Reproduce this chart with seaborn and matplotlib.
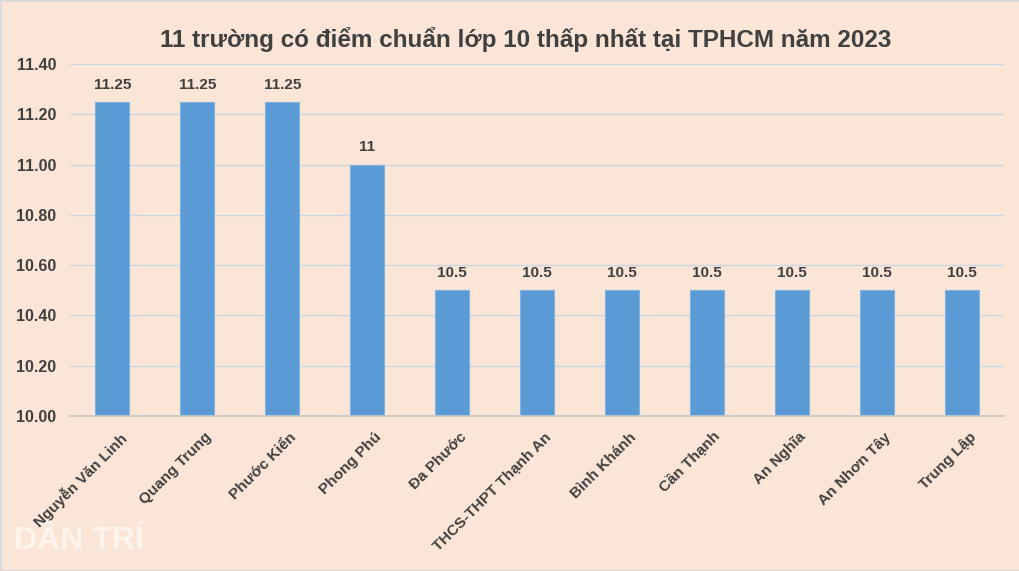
import matplotlib

matplotlib.use("Agg")
import matplotlib.pyplot as plt
import matplotlib.transforms as mtransforms
import numpy as np
import pandas as pd
import seaborn as sns

TITLE = "11 trường có điểm chuẩn lớp 10 thấp nhất tại TPHCM năm 2023"
SCHOOLS = [
    "Nguyễn Văn Linh",
    "Quang Trung",
    "Phước Kiển",
    "Phong Phú",
    "Đa Phước",
    "THCS-THPT Thạnh An",
    "Bình Khánh",
    "Cần Thạnh",
    "An Nghĩa",
    "An Nhơn Tây",
    "Trung Lập",
]
SCORES = [11.25, 11.25, 11.25, 11, 10.5, 10.5, 10.5, 10.5, 10.5, 10.5, 10.5]
SCORE_LABELS = ["11.25", "11.25", "11.25", "11", "10.5", "10.5", "10.5", "10.5", "10.5", "10.5", "10.5"]
Y_TICKS = [10.0, 10.2, 10.4, 10.6, 10.8, 11.0, 11.2, 11.4]

BG = "#FBE5D6"
BAR = "#5B9BD5"
TEXT = "#404040"

sns.set_theme(style="white")
plt.rcParams["font.family"] = ["Liberation Sans", "DejaVu Sans"]
plt.rcParams["font.weight"] = "bold"

df = pd.DataFrame({"school": SCHOOLS, "score": SCORES})

fig = plt.figure(figsize=(10.2, 5.71), dpi=100, facecolor=BG,
                 edgecolor="#D9D9D9", linewidth=2)
ax = fig.add_axes([0.0686, 0.2715, 0.916, 0.6165])
ax.set_facecolor(BG)

sns.barplot(data=df, x="school", y="score", color=BAR, width=0.4,
            saturation=1, edgecolor="#7FB2E0", linewidth=0.8, ax=ax)
ax.set_ylim(10.0, 11.4)
ax.set_xlim(-0.5, len(SCHOOLS) - 0.5)

for i, (v, lab) in enumerate(zip(SCORES, SCORE_LABELS)):
    ax.text(i, v + 0.04, lab, ha="center", va="bottom", fontsize=11,
            fontweight="bold", color=TEXT)

ax.set_yticks(Y_TICKS)
ax.set_yticklabels([f"{t:.2f}" for t in Y_TICKS], fontsize=11.5,
                   fontweight="bold", color=TEXT)
ax.yaxis.grid(True, color="#C9D6E3", linewidth=1)
ax.set_axisbelow(True)

ax.set_xticks(range(len(SCHOOLS)))
ax.set_xticklabels(SCHOOLS, rotation=45, ha="right", rotation_mode="anchor",
                   fontsize=11, fontweight="bold", color=TEXT)
ax.set_xticks(np.arange(-0.5, len(SCHOOLS), 1), minor=True)
ax.tick_params(axis="x", which="major", length=0, pad=10)
ax.tick_params(axis="x", which="minor", length=5, color="#C8C8C8", width=1)
ax.tick_params(axis="y", length=0, pad=10)
ax.set_xlabel("")
ax.set_ylabel("")

# nudge the slanted labels a little to the right, like the original
shift = mtransforms.ScaledTranslation(7 / 100, 0, fig.dpi_scale_trans)
for lab in ax.get_xticklabels():
    lab.set_transform(lab.get_transform() + shift)

for side in ["top", "right", "left"]:
    ax.spines[side].set_visible(False)
ax.spines["bottom"].set_color("#C8C8C8")

fig.text(0.515, 0.93, TITLE, ha="center", va="center", fontsize=17.5,
         fontweight="bold", color=TEXT)
fig.text(0.014, 0.052, "DÂN TRÍ", ha="left", va="center", fontsize=23,
         fontweight="bold", color="white", alpha=0.6,
         family=["Liberation Sans Narrow", "Liberation Sans"])

fig.savefig("out.png", dpi=100, facecolor=BG, edgecolor="#D9D9D9")
